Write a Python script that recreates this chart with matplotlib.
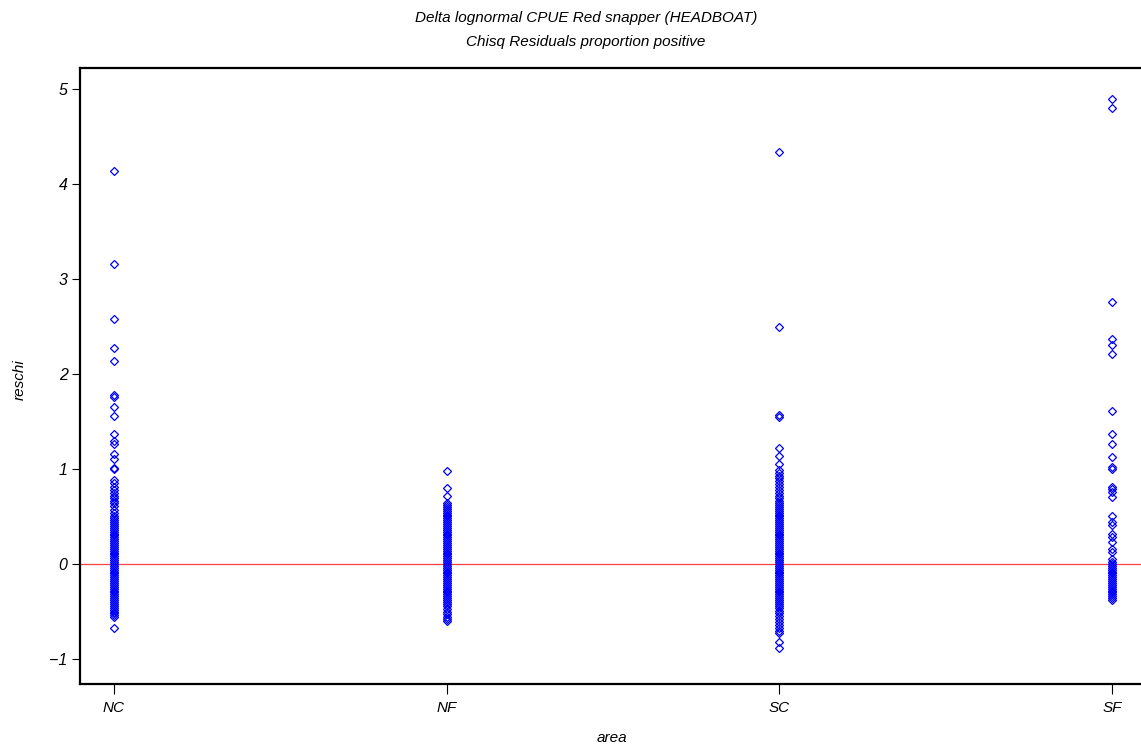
import matplotlib
matplotlib.use("Agg")
import matplotlib.pyplot as plt

plt.rcParams['font.family'] = ['Liberation Sans', 'DejaVu Sans']

areas = ['NC', 'NF', 'SC', 'SF']

# chi-square residuals, one list per area
nc_resid = [4.14, 3.16, 2.58, 2.27, 2.14, 1.78, 1.76, 1.65, 1.56, 1.37, 1.29, 1.26,
            1.16, 1.10, 1.01, 1.00, 0.88, 0.85, 0.81, 0.78, 0.75, 0.72, 0.69, 0.66,
            0.64, 0.61, 0.57, 0.54, 0.50, 0.48,
            0.46, 0.44, 0.42, 0.40, 0.38, 0.36, 0.34, 0.32, 0.30, 0.28, 0.26, 0.24,
            0.22, 0.20, 0.18, 0.16, 0.14, 0.12, 0.10, 0.08, 0.06, 0.04, 0.02, 0.00,
            -0.02, -0.04, -0.06, -0.08, -0.10, -0.12, -0.14, -0.16, -0.18, -0.20,
            -0.22, -0.24, -0.26, -0.28, -0.30, -0.32, -0.34, -0.36, -0.38, -0.40,
            -0.42, -0.44, -0.46, -0.48, -0.50, -0.52, -0.54, -0.56, -0.67]
nf_resid = [0.98, 0.80, 0.72, 0.64, 0.62, 0.60, 0.58, 0.56, 0.54, 0.52, 0.50, 0.48,
            0.46, 0.44, 0.42, 0.40, 0.38, 0.36, 0.34, 0.32, 0.30, 0.28, 0.26, 0.24,
            0.22, 0.20, 0.18, 0.16, 0.14, 0.12, 0.10, 0.08, 0.06, 0.04, 0.02, 0.00,
            -0.02, -0.04, -0.06, -0.08, -0.10, -0.12, -0.14, -0.16, -0.18, -0.20,
            -0.22, -0.24, -0.26, -0.28, -0.30, -0.32, -0.34, -0.36, -0.38, -0.40,
            -0.42, -0.44, -0.47, -0.50, -0.53, -0.56, -0.58, -0.60]
sc_resid = [4.34, 2.49, 1.57, 1.55, 1.22, 1.14, 1.05, 0.99, 0.96, 0.93, 0.90, 0.87,
            0.84, 0.81, 0.78, 0.75, 0.72, 0.69, 0.66,
            0.64, 0.62, 0.60, 0.58, 0.56, 0.54, 0.52, 0.50, 0.48, 0.46, 0.44, 0.42,
            0.40, 0.38, 0.36, 0.34, 0.32, 0.30, 0.28, 0.26, 0.24, 0.22, 0.20, 0.18,
            0.16, 0.14, 0.12, 0.10, 0.08, 0.06, 0.04, 0.02, 0.00, -0.02, -0.04,
            -0.06, -0.08, -0.10, -0.12, -0.14, -0.16, -0.18, -0.20, -0.22, -0.24,
            -0.26, -0.28, -0.30, -0.32, -0.34, -0.36, -0.38, -0.40, -0.42, -0.44,
            -0.46, -0.49, -0.52, -0.55, -0.58, -0.61, -0.64, -0.67, -0.70, -0.73,
            -0.82, -0.88]
sf_resid = [4.89, 4.80, 2.76, 2.37, 2.31, 2.21, 1.61, 1.37, 1.26, 1.13, 1.02, 1.00,
            0.81, 0.79, 0.76, 0.71, 0.50, 0.44, 0.41, 0.32, 0.28, 0.23, 0.16, 0.13,
            0.05, 0.02, 0.00, -0.02, -0.04, -0.06, -0.08, -0.10, -0.12, -0.14, -0.16,
            -0.18, -0.20, -0.22, -0.24, -0.26, -0.28, -0.30, -0.32, -0.34, -0.36,
            -0.38]

residuals = [nc_resid, nf_resid, sc_resid, sf_resid]

fig = plt.figure(figsize=(11.41, 7.51), dpi=100)
ax = fig.add_axes([80 / 1141, 1 - 684 / 751, 1 - 80 / 1141, (684 - 68) / 751])

for i, vals in enumerate(residuals):
    ax.plot([i] * len(vals), vals, linestyle='none', marker='D', markersize=3.6,
            markerfacecolor='none', markeredgecolor='#0000ff', markeredgewidth=0.9)

ax.axhline(0, color='#ff4040', linewidth=0.9, zorder=0)

ax.set_xlim(-0.102, 3.087)
ax.set_ylim(-1.263, 5.22)
ax.set_xticks(range(len(areas)))
ax.set_xticklabels(areas, style='italic', fontsize=11)
ax.set_yticks(range(-1, 6))
ax.set_yticklabels(['−1', '0', '1', '2', '3', '4', '5'], style='italic', fontsize=11.5)
ax.tick_params(axis='y', length=6, width=0.8, direction='out', pad=3)
ax.tick_params(axis='x', length=7, width=0.8, direction='out', pad=5)

ax.spines['right'].set_visible(False)
for s in ['top', 'bottom', 'left']:
    ax.spines[s].set_linewidth(1.6)

fig.text(612 / 1141, 1 - 738 / 751, 'area', ha='center', va='center',
         style='italic', fontsize=11)
fig.text(20 / 1141, 1 - 380 / 751, 'reschi', ha='center', va='center',
         rotation=90, style='italic', fontsize=11)

fig.text(586 / 1141, 1 - 18 / 751, 'Delta lognormal CPUE Red snapper (HEADBOAT)',
         ha='center', va='center', style='italic', fontsize=11)
fig.text(586 / 1141, 1 - 42 / 751, 'Chisq Residuals proportion positive',
         ha='center', va='center', style='italic', fontsize=11)

fig.savefig('out.png', dpi=100)
